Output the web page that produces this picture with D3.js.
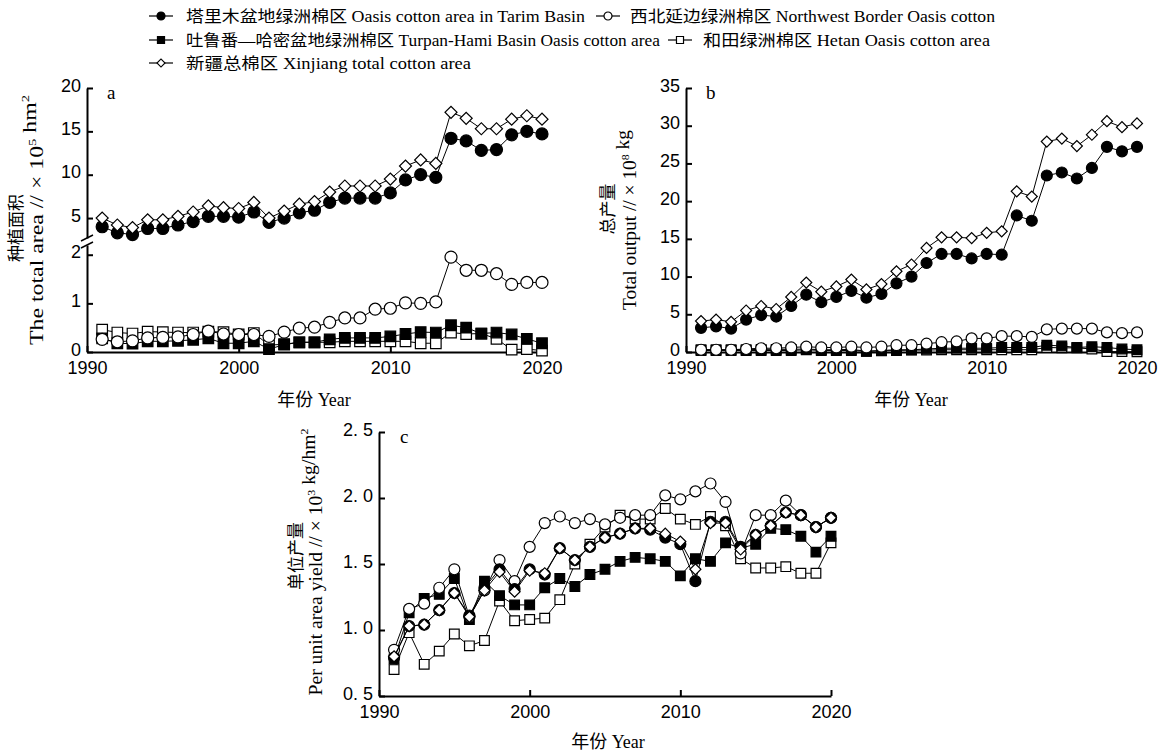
<!DOCTYPE html>
<html>
<head>
<meta charset="utf-8">
<script src="https://cdn.jsdelivr.net/npm/d3@7"></script>
<style>
  body { margin: 0; background: #fff; }
  svg { display: block; font-family: "Liberation Serif", "Noto Sans CJK SC", serif; }
</style>
</head>
<body>
<svg id="chart" width="1169" height="753"></svg>
<script>
const years = [1991, 1992, 1993, 1994, 1995, 1996, 1997, 1998, 1999, 2000,
  2001, 2002, 2003, 2004, 2005, 2006, 2007, 2008, 2009, 2010,
  2011, 2012, 2013, 2014, 2015, 2016, 2017, 2018, 2019, 2020];

const seriesNames = [
  '塔里木盆地绿洲棉区 Oasis cotton area in Tarim Basin',
  '西北延边绿洲棉区 Northwest Border Oasis cotton',
  '吐鲁番—哈密盆地绿洲棉区 Turpan-Hami Basin Oasis cotton area',
  '和田绿洲棉区 Hetan Oasis cotton area',
  '新疆总棉区 Xinjiang total cotton area'
];

// planted area, x10^5 hm2
const areaTarim = [4.0, 3.3, 3.1, 3.8, 3.8, 4.2, 4.6, 5.2, 5.2, 5.1, 5.7, 4.5, 5.0, 5.6, 5.9, 6.8, 7.3, 7.3, 7.3, 7.9, 9.4, 10.0, 9.7, 14.2, 13.9, 12.8, 12.9, 14.6, 15.0, 14.7];
const areaNorthwest = [0.26, 0.21, 0.23, 0.29, 0.30, 0.31, 0.36, 0.43, 0.37, 0.36, 0.36, 0.32, 0.41, 0.49, 0.51, 0.61, 0.70, 0.70, 0.88, 0.90, 1.01, 1.00, 1.03, 1.95, 1.68, 1.68, 1.61, 1.39, 1.43, 1.43];
const areaTurpan = [0.28, 0.18, 0.17, 0.22, 0.22, 0.23, 0.25, 0.28, 0.18, 0.18, 0.22, 0.06, 0.15, 0.20, 0.20, 0.26, 0.29, 0.29, 0.29, 0.32, 0.37, 0.41, 0.40, 0.55, 0.50, 0.38, 0.40, 0.36, 0.27, 0.18];
const areaHetan = [0.46, 0.40, 0.38, 0.42, 0.41, 0.40, 0.40, 0.42, 0.41, 0.36, 0.39, 0.14, 0.16, 0.20, 0.20, 0.20, 0.22, 0.22, 0.22, 0.22, 0.22, 0.18, 0.18, 0.40, 0.37, 0.38, 0.27, 0.05, 0.06, 0.03];
const areaXinjiang = [5.0, 4.2, 3.9, 4.8, 4.8, 5.2, 5.7, 6.4, 6.2, 6.1, 6.8, 5.0, 5.8, 6.6, 6.9, 8.0, 8.7, 8.7, 8.7, 9.5, 11.0, 11.7, 11.3, 17.2, 16.5, 15.3, 15.3, 16.4, 16.8, 16.4];

// total output, x10^8 kg
const outputTarim = [3.2, 3.4, 3.1, 4.3, 4.9, 4.7, 6.1, 7.6, 6.6, 7.3, 8.1, 7.2, 7.7, 9.1, 10.0, 11.8, 13.0, 13.0, 12.4, 13.0, 12.9, 18.1, 17.4, 23.4, 23.8, 23.0, 24.4, 27.2, 26.6, 27.2];
const outputNorthwest = [0.3, 0.3, 0.3, 0.4, 0.5, 0.5, 0.6, 0.7, 0.6, 0.6, 0.7, 0.6, 0.7, 0.9, 0.9, 1.1, 1.3, 1.4, 1.8, 1.8, 2.1, 2.1, 2.0, 3.0, 3.1, 3.1, 3.1, 2.6, 2.5, 2.6];
const outputTurpan = [0.2, 0.2, 0.2, 0.2, 0.2, 0.2, 0.2, 0.3, 0.2, 0.2, 0.2, 0.1, 0.2, 0.3, 0.3, 0.4, 0.5, 0.5, 0.5, 0.5, 0.6, 0.6, 0.6, 0.9, 0.8, 0.6, 0.7, 0.6, 0.4, 0.3];
const outputHetan = [0.3, 0.3, 0.3, 0.3, 0.35, 0.35, 0.35, 0.4, 0.3, 0.3, 0.35, 0.1, 0.15, 0.2, 0.25, 0.25, 0.3, 0.3, 0.3, 0.3, 0.3, 0.3, 0.3, 0.6, 0.55, 0.55, 0.4, 0.05, 0.05, 0.03];
const outputXinjiang = [4.1, 4.3, 4.0, 5.5, 6.1, 5.7, 7.3, 9.2, 8.0, 8.7, 9.6, 8.3, 9.0, 10.7, 11.6, 13.8, 15.2, 15.2, 15.1, 15.8, 16.0, 21.3, 20.6, 27.9, 28.3, 27.3, 28.8, 30.6, 29.8, 30.3];

// yield per unit area, x10^3 kg/hm2
const yieldTarim = [0.79, 1.03, 1.04, 1.15, 1.28, 1.11, 1.32, 1.46, 1.31, 1.46, 1.42, 1.62, 1.53, 1.63, 1.70, 1.73, 1.77, 1.76, 1.70, 1.65, 1.37, 1.82, 1.82, 1.63, 1.72, 1.79, 1.89, 1.87, 1.78, 1.85];
const yieldNorthwest = [0.85, 1.16, 1.20, 1.32, 1.46, 1.10, 1.30, 1.53, 1.37, 1.63, 1.81, 1.86, 1.81, 1.84, 1.80, 1.85, 1.87, 1.87, 2.02, 1.99, 2.05, 2.11, 1.97, 1.58, 1.87, 1.87, 1.98, 1.87, 1.78, 1.85];
const yieldTurpan = [0.78, 1.13, 1.24, 1.27, 1.39, 1.08, 1.37, 1.26, 1.19, 1.19, 1.32, 1.39, 1.33, 1.42, 1.46, 1.52, 1.55, 1.54, 1.52, 1.41, 1.54, 1.52, 1.66, 1.62, 1.65, 1.77, 1.76, 1.71, 1.59, 1.71];
const yieldHetan = [0.70, 0.98, 0.74, 0.84, 0.97, 0.88, 0.92, 1.22, 1.07, 1.08, 1.09, 1.23, 1.50, 1.65, 1.78, 1.87, 1.84, 1.84, 1.92, 1.84, 1.80, 1.86, 1.79, 1.54, 1.47, 1.47, 1.48, 1.43, 1.43, 1.66];
const yieldXinjiang = [0.80, 1.03, 1.04, 1.15, 1.28, 1.10, 1.30, 1.44, 1.29, 1.45, 1.43, 1.62, 1.53, 1.63, 1.70, 1.73, 1.77, 1.77, 1.73, 1.67, 1.46, 1.81, 1.81, 1.61, 1.72, 1.79, 1.89, 1.87, 1.78, 1.85];

const xTicks = [1990, 2000, 2010, 2020];

// marker per series: tarim, northwest, turpan, hetan, xinjiang
const markers = [
  {shape: 'circle', fill: '#000'},
  {shape: 'circle', fill: '#fff'},
  {shape: 'square', fill: '#000'},
  {shape: 'square', fill: '#fff'},
  {shape: 'diamond', fill: '#fff'}
];
// drawing order, back to front
const drawOrder = [3, 2, 1, 0, 4];

const svg = d3.select('#chart');

function markerPath(shape, d) {
  if (shape === 'circle') return d3.symbol(d3.symbolCircle, Math.PI * d * d / 4)();
  if (shape === 'square') return d3.symbol(d3.symbolSquare, (d * 0.88) ** 2)();
  return d3.symbol(d3.symbolSquare, d * d / 2)();
}

function drawSeries(g, x, y, values, marker, d) {
  g.append('path')
    .datum(values)
    .attr('fill', 'none')
    .attr('stroke', '#000')
    .attr('stroke-width', 1)
    .attr('d', d3.line().x((v, i) => x(years[i])).y(v => y(v)));
  g.append('g')
    .selectAll('path')
    .data(values)
    .join('path')
    .attr('transform', (v, i) => `translate(${x(years[i])},${y(v)})` + (marker.shape === 'diamond' ? ' rotate(45)' : ''))
    .attr('d', markerPath(marker.shape, d))
    .attr('fill', marker.fill)
    .attr('stroke', '#000')
    .attr('stroke-width', 1.2);
}

function styleAxis(g) {
  g.selectAll('.domain').attr('stroke-width', 2);
  g.selectAll('.tick line').attr('stroke-width', 2);
  g.selectAll('.tick text').attr('font-size', 18).attr('fill', '#000');
}

function xAxis(g, x, y0) {
  g.append('g')
    .attr('transform', `translate(0,${y0})`)
    .call(d3.axisBottom(x).tickValues(xTicks).tickFormat(d3.format('d')).tickSizeInner(-6).tickSizeOuter(0).tickPadding(9))
    .call(styleAxis);
}

function yAxis(g, x0, y, ticks, fmt) {
  g.append('g')
    .attr('transform', `translate(${x0},0)`)
    .call(d3.axisLeft(y).tickValues(ticks).tickFormat(fmt).tickSizeInner(-6).tickSizeOuter(0).tickPadding(6))
    .call(styleAxis)
    .call(a => a.selectAll('.tick text').attr('dy', '0.18em'));
}

// rotated two-line axis title
function yTitle(cn, cnX, cnY, parts, enX, enY, enLen) {
  svg.append('text')
    .attr('transform', `translate(${cnX},${cnY}) rotate(-90)`)
    .attr('text-anchor', 'middle')
    .attr('font-family', '"Noto Sans CJK SC"')
    .attr('font-size', 17)
    .attr('fill', '#000')
    .text(cn);
  const t = svg.append('text')
    .attr('transform', `translate(${enX},${enY}) rotate(-90)`)
    .attr('text-anchor', 'middle')
    .attr('font-size', 18)
    .attr('textLength', enLen)
    .attr('lengthAdjust', 'spacingAndGlyphs');
  parts.forEach(p => {
    if (p.sup) {
      t.append('tspan').attr('font-size', 11).attr('dy', -7).text(p.sup);
      t.append('tspan').attr('dy', 7).text('');
    } else {
      t.append('tspan').text(p.text);
    }
  });
}

function xTitle(cx, cy) {
  svg.append('text')
    .attr('x', cx)
    .attr('y', cy)
    .attr('text-anchor', 'middle')
    .attr('font-size', 18)
    .text('年份 Year');
}

function panelLabel(txt, px, py) {
  svg.append('text').attr('x', px).attr('y', py).attr('font-size', 19).text(txt);
}

// ---- panel a: broken y axis ----
{
  const g = svg.append('g');
  const x = d3.scaleLinear().domain([1990, 2020]).range([87, 542]);
  const yUp = d3.scaleLinear().domain([2.7, 20]).range([238, 88]);
  const yLow = d3.scaleLinear().domain([0, 2.2]).range([352, 245]);

  yAxis(g, 87, yUp, [5, 10, 15, 20], d3.format('d'));
  yAxis(g, 87, yLow, [0, 1, 2], d3.format('d'));
  // break marks
  g.append('g')
    .attr('stroke', '#000')
    .attr('stroke-width', 1.5)
    .selectAll('line')
    .data([yUp.range()[0], yLow.range()[1]])
    .join('line')
    .attr('x1', 81).attr('x2', 93)
    .attr('y1', d => d + 3).attr('y2', d => d - 3);
  xAxis(g, x, 352);

  const values = [areaTarim, areaNorthwest, areaTurpan, areaHetan, areaXinjiang];
  const scales = [yUp, yLow, yLow, yLow, yUp];
  drawOrder.forEach(i => drawSeries(g, x, scales[i], values[i], markers[i], 12));

  panelLabel('a', 107, 99);
  yTitle('种植面积', 22, 228,
    [{text: 'The total area // × 10'}, {sup: '5'}, {text: ' hm'}, {sup: '2'}], 43, 220, 250);
  xTitle(314, 406);
}

// ---- panel b ----
{
  const g = svg.append('g');
  const x = d3.scaleLinear().domain([1990, 2020]).range([686, 1137]);
  const y = d3.scaleLinear().domain([0, 35]).range([352, 88]);
  yAxis(g, 686, y, [0, 5, 10, 15, 20, 25, 30, 35], d3.format('d'));
  xAxis(g, x, 352);
  const values = [outputTarim, outputNorthwest, outputTurpan, outputHetan, outputXinjiang];
  drawOrder.forEach(i => drawSeries(g, x, y, values[i], markers[i], 11));
  panelLabel('b', 706, 99);
  yTitle('总产量', 614, 209,
    [{text: 'Total output // × 10'}, {sup: '8'}, {text: ' kg'}], 636, 220, 180);
  xTitle(911, 406);
}

// ---- panel c ----
{
  const g = svg.append('g');
  const x = d3.scaleLinear().domain([1990, 2020]).range([379, 831]);
  const y = d3.scaleLinear().domain([0.5, 2.5]).range([696, 432]);
  yAxis(g, 379, y, [0.5, 1.0, 1.5, 2.0, 2.5], d => d3.format('.1f')(d).replace('.', '. '));
  xAxis(g, x, 696);
  const values = [yieldTarim, yieldNorthwest, yieldTurpan, yieldHetan, yieldXinjiang];
  drawOrder.forEach(i => drawSeries(g, x, y, values[i], markers[i], 11));
  panelLabel('c', 400, 443);
  yTitle('单位产量', 302, 556,
    [{text: 'Per unit area yield // × 10'}, {sup: '3'}, {text: ' kg/hm'}, {sup: '2'}], 322, 562, 267);
  xTitle(608, 748);
}

// ---- legend ----
const legendItems = [
  {i: 0, mx: 161, tx: 186, y: 16, len: 399},
  {i: 1, mx: 608, tx: 630, y: 16, len: 365},
  {i: 2, mx: 161, tx: 186, y: 40, len: 474},
  {i: 3, mx: 680, tx: 703, y: 40, len: 287},
  {i: 4, mx: 161, tx: 186, y: 63, len: 285}
];
const legend = svg.append('g');
legendItems.forEach(it => {
  legend.append('line')
    .attr('x1', it.mx - 12).attr('x2', it.mx + 12)
    .attr('y1', it.y).attr('y2', it.y)
    .attr('stroke', '#000').attr('stroke-width', 1.2);
  legend.append('path')
    .attr('transform', `translate(${it.mx},${it.y})` + (markers[it.i].shape === 'diamond' ? ' rotate(45)' : ''))
    .attr('d', markerPath(markers[it.i].shape, 8))
    .attr('fill', markers[it.i].fill)
    .attr('stroke', '#000')
    .attr('stroke-width', 1.2);
  legend.append('text')
    .attr('x', it.tx)
    .attr('y', it.y + 6)
    .attr('font-size', 16)
    .attr('textLength', it.len)
    .attr('lengthAdjust', 'spacingAndGlyphs')
    .text(seriesNames[it.i]);
});
</script>
</body>
</html>
